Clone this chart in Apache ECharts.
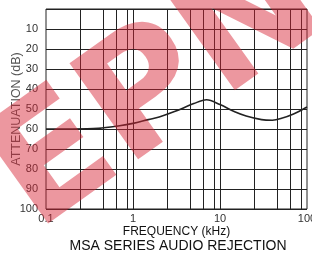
<!DOCTYPE html>
<html>
<head>
<meta charset="utf-8">
<title>MSA audio rejection</title>
<script src="https://cdn.jsdelivr.net/npm/echarts@6/dist/echarts.min.js"></script>
<style>
html, body { margin: 0; padding: 0; background: #fff; }
#main { width: 312px; height: 255px; }
</style>
</head>
<body>
<div id="main"></div>
<script>
// frequency (kHz) and attenuation (dB)
var freq = [0.1, 0.2, 0.4, 0.7, 1, 1.5, 2, 3, 5, 7, 10, 15, 20, 30, 40, 50, 70, 100];
var atten = [60, 60, 59.7, 58.4, 57.2, 55.3, 54, 51.3, 47.3, 45.4, 47.8, 51.5, 53.5, 55.3, 55.6, 54.8, 52.5, 49];
// vertical grid lines of the chart paper
var gridFreq = [0.25, 0.45, 0.65, 0.85, 1, 2.5, 4.5, 6.5, 8.5, 10, 25, 45, 65, 85];
var yTicks = [10, 20, 30, 40, 50, 60, 70, 80, 90, 100];

var font = 'Liberation Sans, Arial, sans-serif';
var myChart = echarts.init(document.getElementById('main'));

var pts = freq.map(function (f, i) { return [f, atten[i]]; });

var option = {
    animation: false,
    grid: {
        left: 46, right: 5, top: 9, bottom: 46,
        outerBoundsMode: 'none', containLabel: false,
        show: true, borderColor: '#222', borderWidth: 1
    },
    xAxis: {
        type: 'log', logBase: 10, min: 0.1, max: 100,
        name: 'FREQUENCY (kHz)', nameLocation: 'middle', nameGap: 17, nameMoveOverlap: false,
        nameTextStyle: { color: '#111', fontSize: 12, fontFamily: font },
        axisLine: { show: false }, axisTick: { show: false },
        splitLine: { show: false },
        axisLabel: { color: '#333', fontSize: 11, fontFamily: font, margin: 4,
            formatter: function (v) { return String(v); } }
    },
    yAxis: {
        type: 'value', inverse: true, min: 0, max: 100, interval: 10,
        name: 'ATTENUATION (dB)', nameLocation: 'middle', nameGap: 23, nameMoveOverlap: false,
        nameTextStyle: { color: '#555', fontSize: 12.5, fontFamily: font },
        axisLine: { show: false }, axisTick: { show: false },
        splitLine: { show: true, lineStyle: { color: '#222', width: 1 } },
        axisLabel: { color: '#333', fontSize: 11, fontFamily: font, margin: 8,
            formatter: function (v) { return yTicks.indexOf(v) >= 0 ? String(v) : ''; } }
    },
    title: {
        text: 'MSA SERIES AUDIO REJECTION', left: 173, textAlign: 'center', top: 234,
        textStyle: { color: '#111', fontSize: 14, fontWeight: 'normal', fontFamily: font }
    },
    series: [{
        type: 'line',
        data: pts,
        smooth: 0.35,
        symbol: 'none',
        lineStyle: { color: '#222', width: 1.6 },
        markLine: {
            silent: true, symbol: 'none', animation: false,
            label: { show: false },
            lineStyle: { color: '#222', width: 1, type: 'solid' },
            data: gridFreq.map(function (f) { return { xAxis: f }; })
        }
    }],
    // watermark over the chart
    graphic: [{
        type: 'text', x: 160, y: 92, rotation: 0.62, z: 100,
        style: {
            text: 'EPN', font: 'bold 162px DejaVu Sans, sans-serif',
            fill: 'rgba(215,35,50,0.47)', textAlign: 'center', textVerticalAlign: 'middle'
        }
    }]
};
myChart.setOption(option);
</script>
</body>
</html>
